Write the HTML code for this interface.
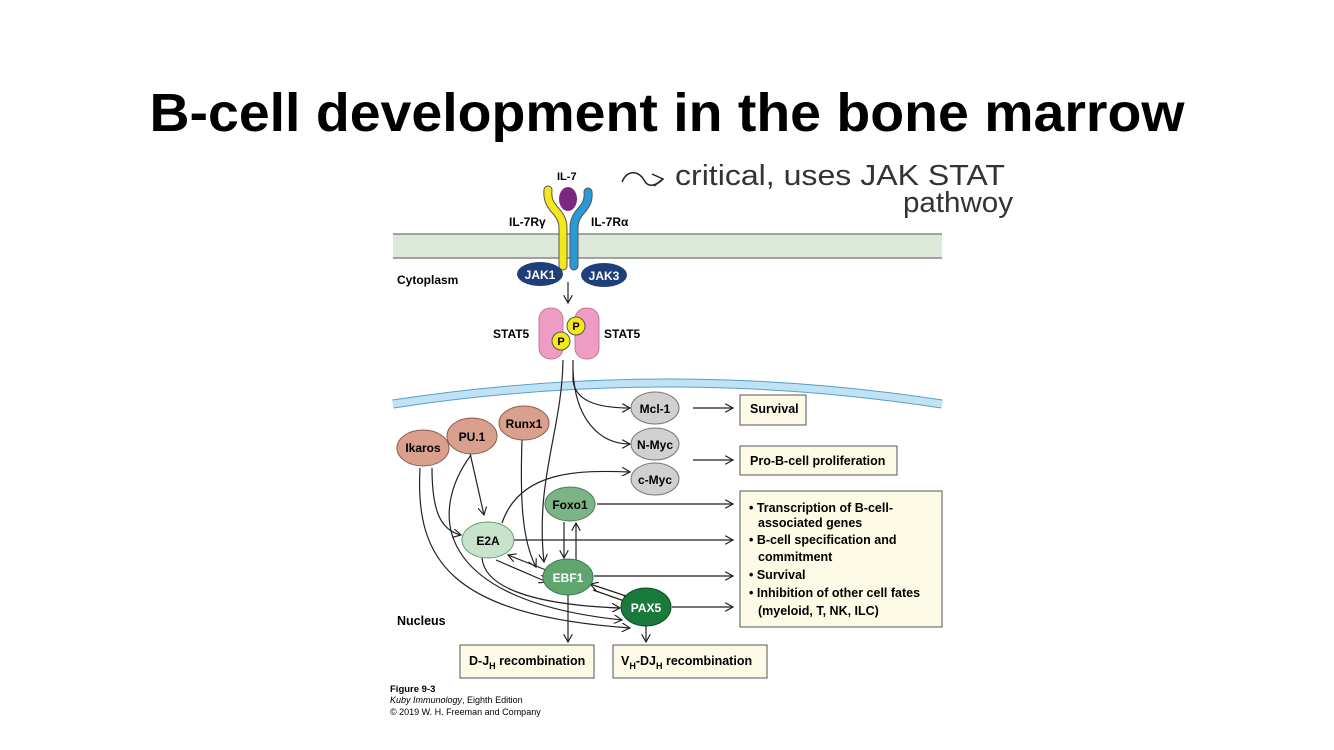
<!DOCTYPE html>
<html><head><meta charset="utf-8"><style>
html,body{margin:0;padding:0;background:#fff;}
svg{display:block;}
.b{font-family:"Liberation Sans",sans-serif;font-weight:bold;}
</style></head><body>
<svg width="1334" height="750" viewBox="0 0 1334 750" xmlns="http://www.w3.org/2000/svg">
<defs>
<marker id="a" viewBox="0 0 10 10" refX="9" refY="5" markerWidth="9" markerHeight="9" orient="auto" markerUnits="userSpaceOnUse">
<path d="M0,0 L9,5 L0,10" fill="none" stroke="#222" stroke-width="1.3"/></marker>
</defs>
<text x="667" y="131" text-anchor="middle" class="b" font-size="54" fill="#000" textLength="1035" lengthAdjust="spacingAndGlyphs">B-cell development in the bone marrow</text>

<!-- handwriting -->
<path d="M622,182 C628,168 640,172 644,180 C648,188 655,186 662,180" fill="none" stroke="#222" stroke-width="1.5"/>
<path d="M652,174 L663,179 L654,186" fill="none" stroke="#222" stroke-width="1.5"/>
<text x="675" y="185" font-family="Liberation Sans,sans-serif" font-size="29" fill="#333" textLength="330" lengthAdjust="spacingAndGlyphs">critical, uses JAK STAT</text>
<text x="903" y="212" font-family="Liberation Sans,sans-serif" font-size="29" fill="#333" textLength="110" lengthAdjust="spacingAndGlyphs">pathwoy</text>

<!-- membrane -->
<rect x="393" y="234" width="549" height="24" fill="#dce8d8"/>
<line x1="393" y1="234" x2="942" y2="234" stroke="#888" stroke-width="1.5"/>
<line x1="393" y1="258" x2="942" y2="258" stroke="#888" stroke-width="1.5"/>

<!-- receptor -->
<path d="M548,190 C546,210 563,210 563,228 L563,266" fill="none" stroke="#555" stroke-width="9" stroke-linecap="round"/>
<path d="M548,190 C546,210 563,210 563,228 L563,266" fill="none" stroke="#f4e81a" stroke-width="7" stroke-linecap="round"/>
<path d="M588,192 C590,210 574,210 574,228 L574,266" fill="none" stroke="#555" stroke-width="9" stroke-linecap="round"/>
<path d="M588,192 C590,210 574,210 574,228 L574,266" fill="none" stroke="#2a9ad6" stroke-width="7" stroke-linecap="round"/>
<ellipse cx="568" cy="199" rx="9" ry="12" fill="#7a2880"/>
<text x="557" y="180" class="b" font-size="11">IL-7</text>
<text x="509" y="226" class="b" font-size="12">IL-7Rγ</text>
<text x="591" y="226" class="b" font-size="12">IL-7Rα</text>
<ellipse cx="540" cy="274" rx="23" ry="12" fill="#1f3f7a"/>
<ellipse cx="604" cy="275" rx="23" ry="12" fill="#1f3f7a"/>
<text x="540" y="279" text-anchor="middle" class="b" font-size="12" fill="#fff">JAK1</text>
<text x="604" y="280" text-anchor="middle" class="b" font-size="12" fill="#fff">JAK3</text>
<text x="397" y="284" class="b" font-size="12">Cytoplasm</text>
<line x1="568" y1="282" x2="568" y2="303" stroke="#222" stroke-width="1.2" marker-end="url(#a)"/>

<!-- STAT5 -->
<rect x="539" y="308" width="24" height="51" rx="11" fill="#ee9cc4" stroke="#b06a8a" stroke-width="0.8"/>
<rect x="575" y="308" width="24" height="51" rx="11" fill="#ee9cc4" stroke="#b06a8a" stroke-width="0.8"/>
<circle cx="576" cy="326" r="9" fill="#f4e81a" stroke="#555" stroke-width="1"/>
<circle cx="561" cy="341" r="9" fill="#f4e81a" stroke="#555" stroke-width="1"/>
<text x="576" y="330" text-anchor="middle" class="b" font-size="11">P</text>
<text x="561" y="345" text-anchor="middle" class="b" font-size="11">P</text>
<text x="493" y="338" class="b" font-size="12">STAT5</text>
<text x="604" y="338" class="b" font-size="12">STAT5</text>

<!-- nuclear membrane -->
<path d="M393,404 Q668,362 942,404" fill="none" stroke="#5a9fc8" stroke-width="9"/>
<path d="M393,404 Q668,362 942,404" fill="none" stroke="#bfe2f5" stroke-width="7"/>

<!-- connectors -->
<g fill="none" stroke="#222" stroke-width="1.2">
<path d="M573,360 L573,380 C575,400 595,408 630,408" marker-end="url(#a)"/>
<path d="M573,370 C575,420 600,444 630,444" marker-end="url(#a)"/>
<path d="M563,360 C562,430 535,480 544,562" marker-end="url(#a)"/>
<path d="M522,440 C520,500 522,540 536,567" marker-end="url(#a)"/>
<path d="M470,453 L484,515" marker-end="url(#a)"/>
<path d="M432,468 C432,510 440,530 461,535" marker-end="url(#a)"/>
<path d="M420,468 C415,560 450,615 630,628" marker-end="url(#a)"/>
<path d="M471,455 C430,510 430,600 622,620" marker-end="url(#a)"/>
<path d="M482,558 C485,590 540,605 620,608" marker-end="url(#a)"/>
<path d="M502,523 C520,470 580,470 630,472" marker-end="url(#a)"/>
<path d="M496,560 L547,582" marker-end="url(#a)"/>
<path d="M546,570 L508,555" marker-end="url(#a)"/>
<path d="M593,590 L630,603" marker-end="url(#a)"/>
<path d="M626,596 L590,584" marker-end="url(#a)"/>
<path d="M564,522 L564,558" marker-end="url(#a)"/>
<path d="M576,560 L576,523" marker-end="url(#a)"/>
<path d="M568,595 L568,642" marker-end="url(#a)"/>
<path d="M646,626 L646,642" marker-end="url(#a)"/>
<path d="M693,408 L733,408" marker-end="url(#a)"/>
<path d="M693,460 L733,460" marker-end="url(#a)"/>
<path d="M597,504 L733,504" marker-end="url(#a)"/>
<path d="M514,540 L733,540" marker-end="url(#a)"/>
<path d="M594,576 L733,576" marker-end="url(#a)"/>
<path d="M672,607 L733,607" marker-end="url(#a)"/>
</g>

<!-- nodes -->
<g class="b" font-size="12" text-anchor="middle">
<ellipse cx="423" cy="448" rx="26" ry="18" fill="#d9a08e" stroke="#8a5a4a"/><text x="423" y="452">Ikaros</text>
<ellipse cx="472" cy="436" rx="25" ry="18" fill="#d9a08e" stroke="#8a5a4a"/><text x="472" y="441">PU.1</text>
<ellipse cx="524" cy="423" rx="25" ry="17" fill="#d9a08e" stroke="#8a5a4a"/><text x="524" y="428">Runx1</text>
<ellipse cx="655" cy="408" rx="24" ry="16" fill="#d0d0d0" stroke="#777"/><text x="655" y="413">Mcl-1</text>
<ellipse cx="655" cy="444" rx="24" ry="16" fill="#d0d0d0" stroke="#777"/><text x="655" y="449">N-Myc</text>
<ellipse cx="655" cy="479" rx="24" ry="16" fill="#d0d0d0" stroke="#777"/><text x="655" y="484">c-Myc</text>
<ellipse cx="570" cy="504" rx="25" ry="17" fill="#7db487" stroke="#4a7a52"/><text x="570" y="509">Foxo1</text>
<ellipse cx="488" cy="540" rx="26" ry="18" fill="#c8e3cc" stroke="#6a9a72"/><text x="488" y="545">E2A</text>
<ellipse cx="568" cy="577" rx="25" ry="18" fill="#5fa56e" stroke="#3a7a48"/><text x="568" y="582" fill="#fff">EBF1</text>
<ellipse cx="646" cy="607" rx="25" ry="19" fill="#1a7a3c" stroke="#0e4a24"/><text x="646" y="612" fill="#fff">PAX5</text>
</g>

<!-- boxes -->
<g class="b" font-size="12.5">
<rect x="740" y="395" width="66" height="30" fill="#fdfbe6" stroke="#555"/><text x="750" y="413">Survival</text>
<rect x="740" y="446" width="157" height="29" fill="#fdfbe6" stroke="#555"/><text x="750" y="465">Pro-B-cell proliferation</text>
<rect x="740" y="491" width="202" height="136" fill="#fdfbe6" stroke="#555"/>
<text x="749" y="512">• Transcription of B-cell-</text>
<text x="758" y="527">associated genes</text>
<text x="749" y="544">• B-cell specification and</text>
<text x="758" y="561">commitment</text>
<text x="749" y="579">• Survival</text>
<text x="749" y="597">• Inhibition of other cell fates</text>
<text x="758" y="615">(myeloid, T, NK, ILC)</text>
<rect x="460" y="645" width="134" height="33" fill="#fdfbe6" stroke="#555"/>
<text x="469" y="665">D-J<tspan font-size="9" dy="4">H</tspan><tspan dy="-4"> recombination</tspan></text>
<rect x="613" y="645" width="154" height="33" fill="#fdfbe6" stroke="#555"/>
<text x="621" y="665">V<tspan font-size="9" dy="4">H</tspan><tspan dy="-4">-DJ</tspan><tspan font-size="9" dy="4">H</tspan><tspan dy="-4"> recombination</tspan></text>
</g>
<text x="397" y="625" class="b" font-size="12.5">Nucleus</text>

<text x="390" y="692" class="b" font-size="9.5">Figure 9-3</text>
<text x="390" y="703" font-family="Liberation Sans,sans-serif" font-size="9"><tspan font-style="italic">Kuby Immunology</tspan>, Eighth Edition</text>
<text x="390" y="715" font-family="Liberation Sans,sans-serif" font-size="9">© 2019 W. H. Freeman and Company</text>
</svg>
</body></html>
